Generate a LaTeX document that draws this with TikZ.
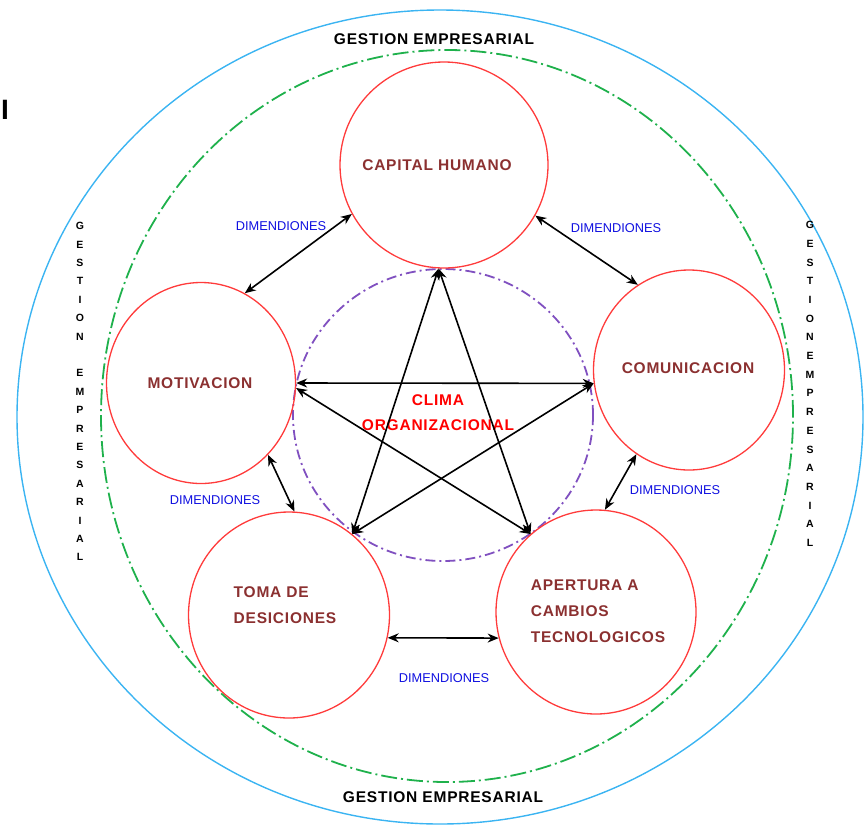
\documentclass[tikz,border=0pt]{standalone}
\usepackage{fontspec}
\setmainfont{Liberation Sans}
\newfontfamily\spaced[LetterSpace=5]{Liberation Sans}
\usetikzlibrary{shapes.geometric,arrows.meta}

\definecolor{outerblue}{HTML}{3BB4F2}
\definecolor{ringgreen}{HTML}{1FB14C}
\definecolor{corepurple}{HTML}{8050C0}
\definecolor{circred}{HTML}{FF3B3B}
\definecolor{titlered}{HTML}{8B3030}
\definecolor{dimblue}{HTML}{1010E0}

\tikzset{
  bubble/.style={ellipse, draw=circred, line width=1.3pt, inner sep=0pt, fill=none},
  title/.style={font=\spaced\bfseries\fontsize{15.5}{26}\selectfont, text=titlered, inner sep=0pt},
  core/.style={font=\spaced\bfseries\fontsize{15.5}{20}\selectfont, text=red, inner sep=0pt},
  dim/.style={font=\fontsize{12.8}{14}\selectfont, text=dimblue, inner sep=0pt},
  frame/.style={font=\spaced\bfseries\fontsize{15.5}{18}\selectfont, inner sep=0pt},
  vlet/.style={font=\bfseries\fontsize{10.5}{10}\selectfont, inner sep=0pt},
  link/.style={{Stealth[length=11pt,width=9pt]}-{Stealth[length=11pt,width=9pt]}, line width=1.6pt}
}

\begin{document}
\begin{tikzpicture}[x=1pt,y=-1pt]
\useasboundingbox (0,0) rectangle (866,825);

% outer frame and rings
\draw[outerblue, line width=1.4pt] (440,417) ellipse [x radius=423pt, y radius=407pt];
\draw[ringgreen, line width=1.8pt, dash pattern=on 16pt off 4pt on 2pt off 4pt]
  (447,416) ellipse [x radius=346pt, y radius=366pt];
\draw[corepurple, line width=1.8pt, dash pattern=on 10pt off 4pt on 2pt off 4pt]
  (443,415) ellipse [x radius=150pt, y radius=146pt];

% the five dimensions
\node[bubble, minimum width=208pt, minimum height=206pt] (cap) at (444,165) {};
\node[bubble, minimum width=189pt, minimum height=201pt] (mot) at (201,383) {};
\node[bubble, minimum width=191pt, minimum height=200pt] (com) at (689,370) {};
\node[bubble, minimum width=201pt, minimum height=206pt] (tom) at (289,615) {};
\node[bubble, minimum width=200pt, minimum height=204pt] (ape) at (596,612) {};

\node[title] (capt) at (437,165) {CAPITAL HUMANO};
\node[title] (mott) at (200,383) {MOTIVACION};
\node[title] (comt) at (688,368) {COMUNICACION};
\node[title, align=left] (tomt) at (285,605) {TOMA DE\\DESICIONES};
\node[title, align=left] (apet) at (598,611) {APERTURA A\\CAMBIOS\\TECNOLOGICOS};

% centre
\node[core] (clima) at (438,400) {CLIMA};
\node[core] (org) at (438,425) {ORGANIZACIONAL};

% links around the ring
\draw[link] (cap.208) -- (mot.64);
\draw[link] (cap.331) -- (com.121);
\draw[link] (mot.313) -- (tom.87);
\draw[link] (com.238) -- (ape.85);
\draw[link] (tom.347) -- (ape.195);

% the star
\draw[link] (mot.0) -- (com.188);
\draw[link] (cap.267) -- (tom.52);
\draw[link] (cap.267) -- (ape.130);
\draw[link] (mot.357) -- (ape.130);
\draw[link] (com.188) -- (tom.52);

% dimension labels
\node[dim] (d1) at (281,226) {DIMENDIONES};
\node[dim] (d2) at (616,228) {DIMENDIONES};
\node[dim] (d3) at (215,500) {DIMENDIONES};
\node[dim] (d4) at (675,490) {DIMENDIONES};
\node[dim] (d5) at (444,678) {DIMENDIONES};

% frame titles
\node[frame] (gtop) at (434,39) {GESTION EMPRESARIAL};
\node[frame] (gbot) at (443,797) {GESTION EMPRESARIAL};
\node[font=\bfseries\fontsize{28}{28}\selectfont, inner sep=0pt] (mark) at (5,110) {I};

% vertical titles
\foreach \c [count=\i from 0] in {G,E,S,T,I,O,N}
  \node[vlet] (gla\i) at (80,{226+18.4*\i}) {\c};
\foreach \c [count=\i from 8] in {E,M,P,R,E,S,A,R,I,A,L}
  \node[vlet] (glb\i) at (80,{226+18.4*\i}) {\c};
\foreach \c [count=\i from 0] in {G,E,S,T,I,O,N,E,M,P,R,E,S,A,R,I,A,L}
  \node[vlet] (gr\i) at (810,{225+18.7*\i}) {\c};
\end{tikzpicture}
\end{document}
